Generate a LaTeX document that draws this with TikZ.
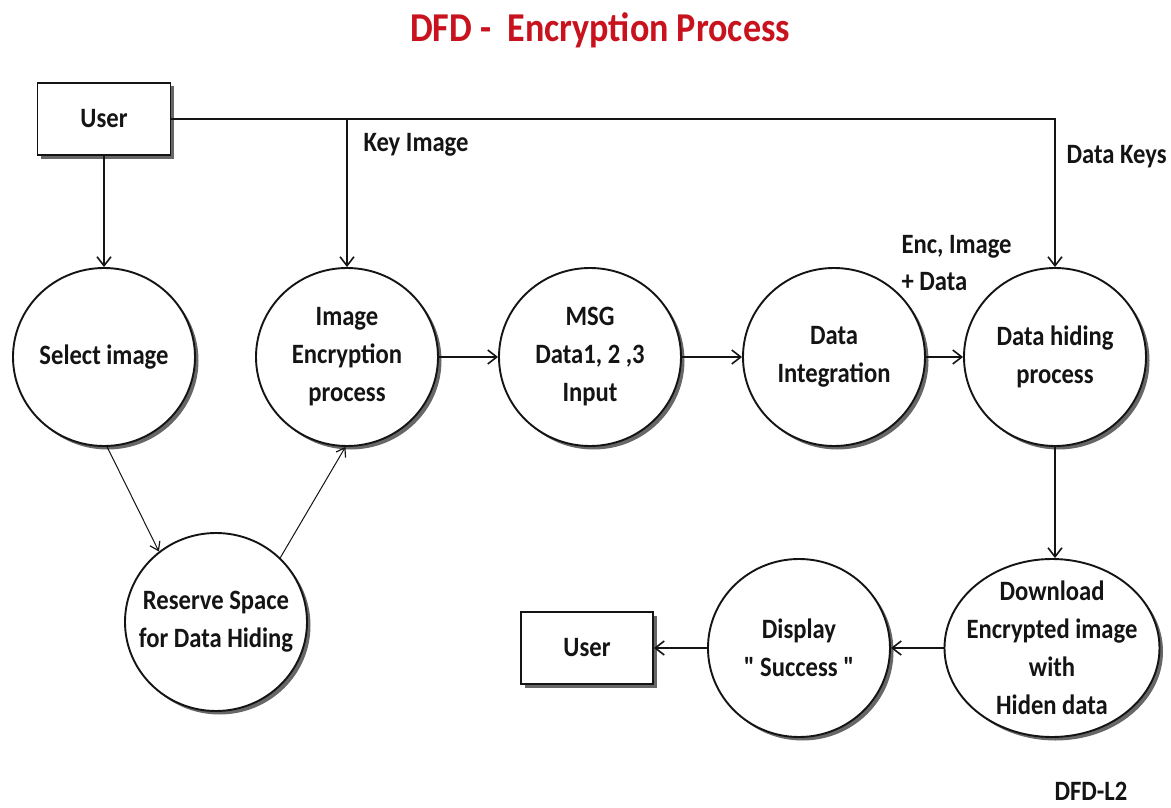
\documentclass[tikz,border=0pt]{standalone}
\usepackage{fontspec}
\setmainfont{Carlito}[FakeStretch=0.88, Ligatures=TeXOff]
\usetikzlibrary{arrows.meta,shapes.geometric,shadows}
\definecolor{titlered}{RGB}{200,18,30}
\definecolor{ink}{RGB}{20,20,20}
\begin{document}
\begin{tikzpicture}[x=1pt,y=-1pt,
  every node/.style={font=\bfseries\fontsize{28}{38}\selectfont, text=ink},
  shade3/.style={drop shadow={shadow xshift=3.5pt,shadow yshift=-3.5pt,fill=black!70,opacity=0.85}},
  proc/.style={ellipse, draw=ink, line width=1.9pt, fill=white, minimum width=182pt, minimum height=178pt, inner sep=0pt, shade3},
  ent/.style={rectangle, draw=ink, line width=1.9pt, fill=white, minimum width=133pt, minimum height=72pt, inner sep=0pt, shade3},
  txt/.style={align=center},
  flow/.style={draw=ink, line width=1.6pt, -{Straight Barb[length=9pt,width=14pt,line width=1.6pt]}},
  thinflow/.style={draw=ink, line width=1pt, -{Straight Barb[length=8pt,width=11pt,line width=1.2pt]}},
]
\useasboundingbox (0,0) rectangle (1171,808);

\node[text=titlered, font=\bfseries\fontsize{41}{48}\selectfont] (title) at (600,30) {DFD -\ \ Encryption Process};

\node[ent] (u1) at (104,119) {User};

\node[proc] (sel) at (104,357) {};
\node[txt] (selT) at (sel) {Select image};
\node[proc] (enc) at (347,357) {};
\node[txt] (encT) at (enc) {Image\\Encryption\\process};
\node[proc] (msg) at (590,357) {};
\node[txt] (msgT) at (msg) {MSG\\Data1, 2 ,3\\Input};
\node[proc] (integ) at (834,357) {};
\node[txt] (integT) at (integ) {Data\\Integration};
\node[proc] (hide) at (1055,357) {};
\node[txt] (hideT) at (hide) {Data hiding\\process};
\node[proc] (res) at (216,622) {};
\node[txt] (resT) at (res) {Reserve Space\\for Data Hiding};
\node[proc] (disp) at (799,648) {};
\node[txt] (dispT) at (disp) {Display\\" Success "};
\node[proc, minimum width=215pt] (down) at (1052,648) {};
\node[txt] (downT) at (down) {Download\\Encrypted image\\with\\Hiden data};
\node[ent, minimum width=132pt] (u2) at (587,648) {User};

\coordinate (kb) at (enc |- u1.east);
\draw[flow] (u1) -- (sel);
\draw[flow] (u1.east) -| (hide);
\draw[flow] (kb) -- (enc);
\draw[flow] (enc) -- (msg);
\draw[flow] (msg) -- (integ);
\draw[flow] (integ) -- (hide);
\draw[thinflow] (sel.-88) -- (res.129);
\draw[thinflow] (res.45) -- (enc.-91);
\draw[flow] (hide) -- (hide |- down.north);
\draw[flow] (down) -- (disp);
\draw[flow] (disp) -- (u2);

\node[anchor=west] (lk) at (360,145) {Key Image};
\node[anchor=west] (ld) at (1063,157) {Data Keys};
\node[anchor=west, align=left, font=\bfseries\fontsize{28}{37}\selectfont] (le) at (898,263) {Enc, Image\\+ Data};
\node (l2) at (1091,791) {DFD-L2};
\end{tikzpicture}
\end{document}
